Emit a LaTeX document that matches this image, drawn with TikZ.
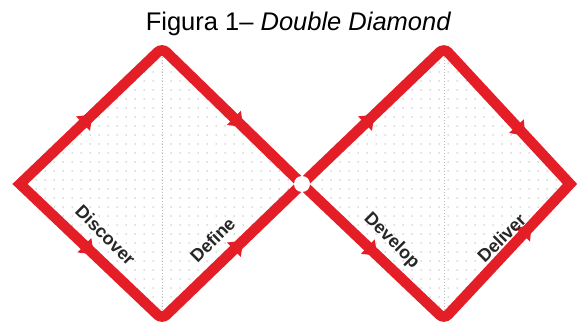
\documentclass[tikz,border=0pt]{standalone}
\usepackage{fontspec}
\setmainfont{Liberation Sans}
\usetikzlibrary{decorations.markings}
\definecolor{ddred}{RGB}{228,30,38}
\definecolor{dotgrey}{RGB}{185,185,185}
\begin{document}
\begin{tikzpicture}[x=1pt,y=-1pt,
  edge/.style={draw=ddred, line width=10.5pt, line join=miter},
  lbl/.style={font=\bfseries\fontsize{18}{18}\selectfont, text=black!85, inner sep=0pt},
  midarrow/.style={decoration={markings, mark=at position #1 with {\fill[ddred] (0,0) -- (-13,10) -- (-13,-10) -- cycle;}}, decorate},
  guide/.style={draw=dotgrey, line width=0.6pt, dash pattern=on 1pt off 2pt}
]
\useasboundingbox (0,0) rectangle (584,326);
% vertices
\coordinate (L1) at (20,184);
\coordinate (T1) at (162,48);
\coordinate (R1) at (302,184);
\coordinate (B1) at (162,319);
\coordinate (L2) at (302,184);
\coordinate (T2) at (444,48);
\coordinate (R2) at (570,184);
\coordinate (B2) at (444,319);
\coordinate (J) at (302,184);
% dotted backgrounds
\begin{scope}
  \clip (L1) -- (T1) -- (R1) -- (B1) -- cycle;
  \foreach \x in {0,9,...,310} \foreach \y in {45,54,...,325} \fill[dotgrey] (\x,\y) circle (0.75);
  \draw[guide] (T1) -- (B1);
\end{scope}
\begin{scope}
  \clip (L2) -- (T2) -- (R2) -- (B2) -- cycle;
  \foreach \x in {295,304,...,580} \foreach \y in {45,54,...,325} \fill[dotgrey] (\x,\y) circle (0.75);
  \draw[guide] (T2) -- (B2);
\end{scope}
% outlines (rounded at top and bottom, sharp at the side points)
\draw[edge] (R1) [rounded corners=6pt] -- (T1) [sharp corners] -- (L1) [rounded corners=6pt] -- (B1) [sharp corners] -- cycle;
\draw[edge] (L2) [rounded corners=6pt] -- (T2) [sharp corners] -- (R2) [rounded corners=6pt] -- (B2) [sharp corners] -- cycle;
% junction gap
\fill[white] (J) circle (8);
% arrowheads
\path[midarrow=0.51] (L1) -- (T1);
\path[midarrow=0.58] (T1) -- (R1);
\path[midarrow=0.52] (L1) -- (B1);
\path[midarrow=0.58] (B1) -- (R1);
\path[midarrow=0.51] (L2) -- (T2);
\path[midarrow=0.645] (T2) -- (R2);
\path[midarrow=0.53] (L2) -- (B2);
\path[midarrow=0.695] (B2) -- (R2);
% labels
\node[lbl, rotate=-45] (discover) at (105.5,235) {Discover};
\node[lbl, rotate=45] (define) at (212.5,240) {Define};
\node[lbl, rotate=-45] (develop) at (391.5,241) {Develop};
\node[lbl, rotate=45] (deliver) at (501.5,238) {Deliver};
% title
\node[anchor=base, inner sep=0pt, font=\fontsize{25.5}{26}\selectfont] (title) at (298.5,30.5) {Figura 1– \textit{Double Diamond}};
\end{tikzpicture}
\end{document}
